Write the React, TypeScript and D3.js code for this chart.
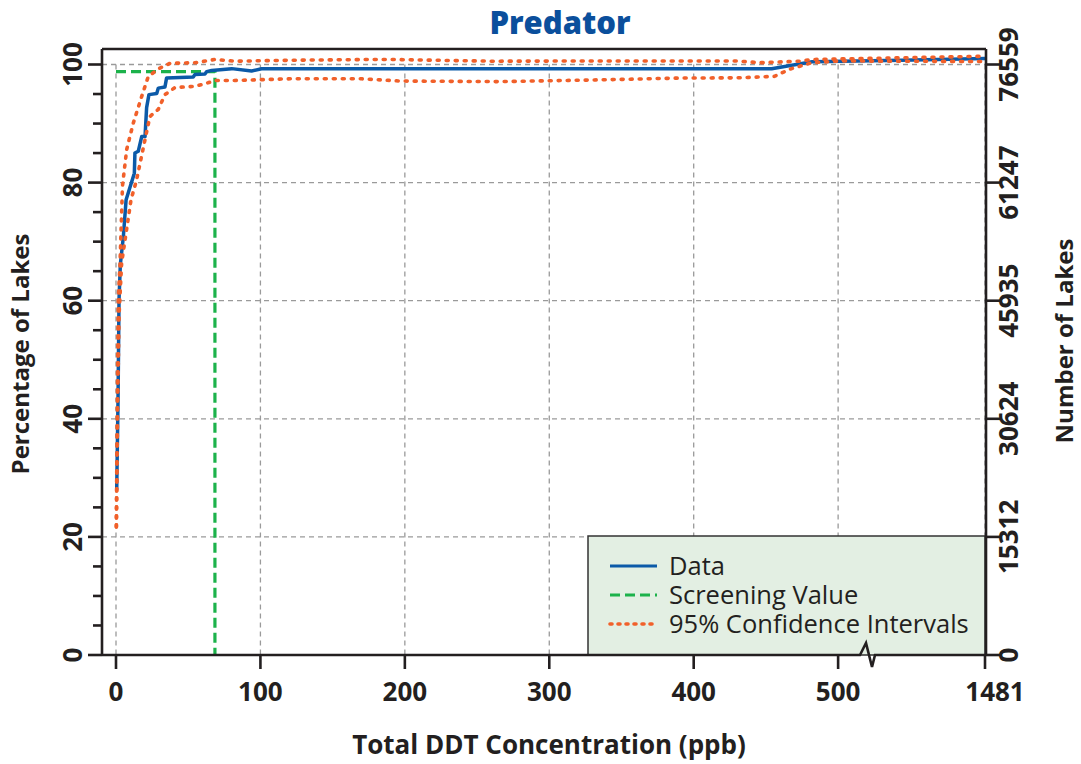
import React from 'react';
import * as d3 from 'd3';

// ---------- data ----------
const xTickValues = [0, 100, 200, 300, 400, 500, 1481];
const yTickValues = [0, 20, 40, 60, 80, 100];
const yMinorTickValues = [5, 10, 15, 25, 30, 35, 45, 50, 55, 65, 70, 75, 85, 90, 95];
const rightTickLabels = ['0', '15312', '30624', '45935', '61247', '76559'];

const dataConc = [0.5, 1.4, 2.1, 3.0, 5.1, 7.0, 12.7, 13.1, 15.4, 17.8, 20.1, 21.2, 22.8, 28.2, 29.3, 33.9, 35.0, 53.5, 54.7, 61.6, 62.8, 66.2, 80.1, 93.9, 100.8, 300, 454, 482, 800, 1481];
const dataPct = [28.0, 43.0, 60.2, 66.1, 70.9, 77.1, 81.6, 85.0, 85.3, 87.8, 87.8, 92.7, 94.9, 95.1, 96.0, 96.2, 97.7, 97.9, 98.3, 98.4, 98.8, 99.0, 99.3, 98.9, 99.27, 99.27, 99.27, 100.46, 100.7, 101.0];

const upperConc = [0.2, 1.0, 1.6, 2.8, 4.5, 7.4, 12.0, 17.8, 22.4, 30.4, 37.4, 54.7, 68.5, 82.4, 123.9, 180, 190, 260, 340, 430, 445.7, 473, 482, 508, 1481];
const upperPct = [21.7, 45.0, 60.2, 66.4, 79.5, 85.6, 90.1, 94.6, 98.0, 99.4, 100.2, 100.3, 100.85, 100.56, 100.73, 100.85, 100.85, 100.56, 100.6, 100.6, 100.3, 100.56, 100.85, 100.97, 101.4];

const lowerConc = [0.3, 1.2, 2.2, 3.9, 10.4, 14.3, 20.1, 23.5, 29.3, 33.9, 40.8, 54.7, 63.7, 68.5, 82.4, 123.9, 170, 196.5, 265.7, 335, 390, 431.8, 456, 466.4, 481.7, 501, 1481];
const lowerPct = [21.7, 44.0, 58.0, 66.4, 77.1, 80.5, 87.3, 91.2, 92.4, 94.9, 96.1, 96.3, 96.9, 97.3, 97.3, 97.6, 97.58, 97.2, 97.1, 97.4, 97.7, 97.75, 98.0, 99.2, 100.3, 100.6, 100.5];

const screeningValue = 68.5;
const screeningPct = 98.8;

const legendLabels = ['Data', 'Screening Value', '95% Confidence Intervals'];

// ---------- styling ----------
const FONT = "'Open Sans', 'Noto Sans', sans-serif";
const BLUE = '#0b5aa8';
const GREEN = '#1cb24b';
const ORANGE = '#f1602a';
const AXIS = '#231f20';
const GRID = '#9a9a9a';

export default function App() {
  const x = d3.scaleLinear().domain([0, 520, 1481]).range([116, 867, 985]);
  const y = d3.scaleLinear().domain([0, 100]).range([655, 64.5]);

  const frameL = 102, frameR = 986, frameT = 49, frameB = 655;

  const toPts = (xs: number[], ys: number[]) => xs.map((v, i) => [v, ys[i]] as [number, number]);
  const line = d3.line<[number, number]>().x(d => x(d[0])).y(d => y(d[1]));

  const dataPath = line(toPts(dataConc, dataPct)) || '';
  const upperPath = line(toPts(upperConc, upperPct)) || '';
  const lowerPath = line(toPts(lowerConc, lowerPct)) || '';
  const screenPath = line([[0, screeningPct], [screeningValue, screeningPct], [screeningValue, 0]]) || '';

  const breakX = x(520);
  const bottomAxisPath = `M${frameL},${frameB}L${breakX - 7},${frameB}L${breakX - 1},${frameB - 12}L${breakX + 5},${frameB + 12}L${breakX + 8},${frameB}L${frameR},${frameB}`;

  const legendX = 588, legendY = 536, legendW = 397, legendH = 119;
  const legendRows = [566, 595, 624];

  return (
    <svg width={1081} height={764} style={{ position: 'absolute', left: 0, top: 0, background: '#fff' }} fontFamily={FONT}>
      {/* title */}
      <text x={560} y={33.5} textAnchor="middle" fontSize={31} fontWeight={800} fill="#0b4f9c">Predator</text>

      {/* grid */}
      <g stroke={GRID} strokeWidth={1.3} strokeDasharray="5 4" fill="none">
        {yTickValues.filter(v => v > 0).map(v => (
          <line key={'gy' + v} x1={frameL} x2={x(1481)} y1={y(v)} y2={y(v)} />
        ))}
        {xTickValues.map(v => (
          <line key={'gx' + v} x1={x(v)} x2={x(v)} y1={y(100)} y2={frameB} />
        ))}
      </g>

      {/* series */}
      <path d={screenPath} fill="none" stroke={GREEN} strokeWidth={3.2} strokeDasharray="10 5" />
      <path d={dataPath} fill="none" stroke={BLUE} strokeWidth={3.5} strokeLinejoin="round" />
      <path d={upperPath} fill="none" stroke={ORANGE} strokeWidth={3.6} strokeDasharray="2 7" strokeLinecap="round" />
      <path d={lowerPath} fill="none" stroke={ORANGE} strokeWidth={3.6} strokeDasharray="2 7" strokeLinecap="round" />

      {/* legend */}
      <rect x={legendX} y={legendY} width={legendW} height={legendH} fill="#e3efe3" stroke="#333" strokeWidth={1.5} />
      {legendLabels.map((lab, i) => (
        <g key={lab}>
          <line x1={610} x2={657} y1={legendRows[i]} y2={legendRows[i]}
            stroke={i === 0 ? BLUE : i === 1 ? GREEN : ORANGE}
            strokeWidth={i === 2 ? 3.6 : 3.2}
            strokeDasharray={i === 0 ? undefined : i === 1 ? '10 5' : '2 6'}
            strokeLinecap={i === 2 ? 'round' : 'butt'} />
          <text x={669} y={legendRows[i] + 9} fontSize={25.5} fill="#231f20">{lab}</text>
        </g>
      ))}

      {/* frame & axes */}
      <g stroke={AXIS} strokeWidth={2.6} fill="none">
        <line x1={frameL} x2={frameR} y1={frameT} y2={frameT} />
        <line x1={frameL} x2={frameL} y1={frameT} y2={frameB} />
        <line x1={frameR} x2={frameR} y1={frameT} y2={frameB} />
        <path d={bottomAxisPath} strokeLinejoin="miter" />
        {xTickValues.map(v => (
          <line key={'xt' + v} x1={x(v)} x2={x(v)} y1={frameB} y2={frameB + 14} />
        ))}
        {yTickValues.map(v => (
          <line key={'yt' + v} x1={frameL - 14} x2={frameL} y1={y(v)} y2={y(v)} />
        ))}
        {yMinorTickValues.map(v => (
          <line key={'ym' + v} x1={frameL - 9} x2={frameL} y1={y(v)} y2={y(v)} />
        ))}
        {yTickValues.map(v => (
          <line key={'rt' + v} x1={frameR} x2={frameR + 14} y1={y(v)} y2={y(v)} />
        ))}
      </g>

      {/* x tick labels */}
      <g fontSize={26} fontWeight={700} fill={AXIS} textAnchor="middle">
        {xTickValues.map(v => (
          <text key={'xl' + v} x={v === 1481 ? x(v) + 10 : x(v)} y={701}>{String(v)}</text>
        ))}
      </g>

      {/* left tick labels */}
      <g fontSize={26} fontWeight={700} fill={AXIS} textAnchor="middle">
        {yTickValues.map(v => (
          <text key={'yl' + v} transform={`translate(82,${y(v)}) rotate(-90)`}>{String(v)}</text>
        ))}
      </g>

      {/* right tick labels */}
      <g fontSize={26} fontWeight={700} fill={AXIS} textAnchor="middle">
        {yTickValues.map((v, i) => (
          <text key={'rl' + v} transform={`translate(1018,${y(v)}) rotate(-90)`}>{rightTickLabels[i]}</text>
        ))}
      </g>

      {/* axis titles */}
      <text x={549} y={754} textAnchor="middle" fontSize={26} fontWeight={700} fill={AXIS}>Total DDT Concentration (ppb)</text>
      <text transform="translate(29,354) rotate(-90)" textAnchor="middle" fontSize={24} fontWeight={700} fill={AXIS}>Percentage of Lakes</text>
      <text transform="translate(1073,341) rotate(-90)" textAnchor="middle" fontSize={24} fontWeight={700} fill={AXIS}>Number of Lakes</text>
    </svg>
  );
}
